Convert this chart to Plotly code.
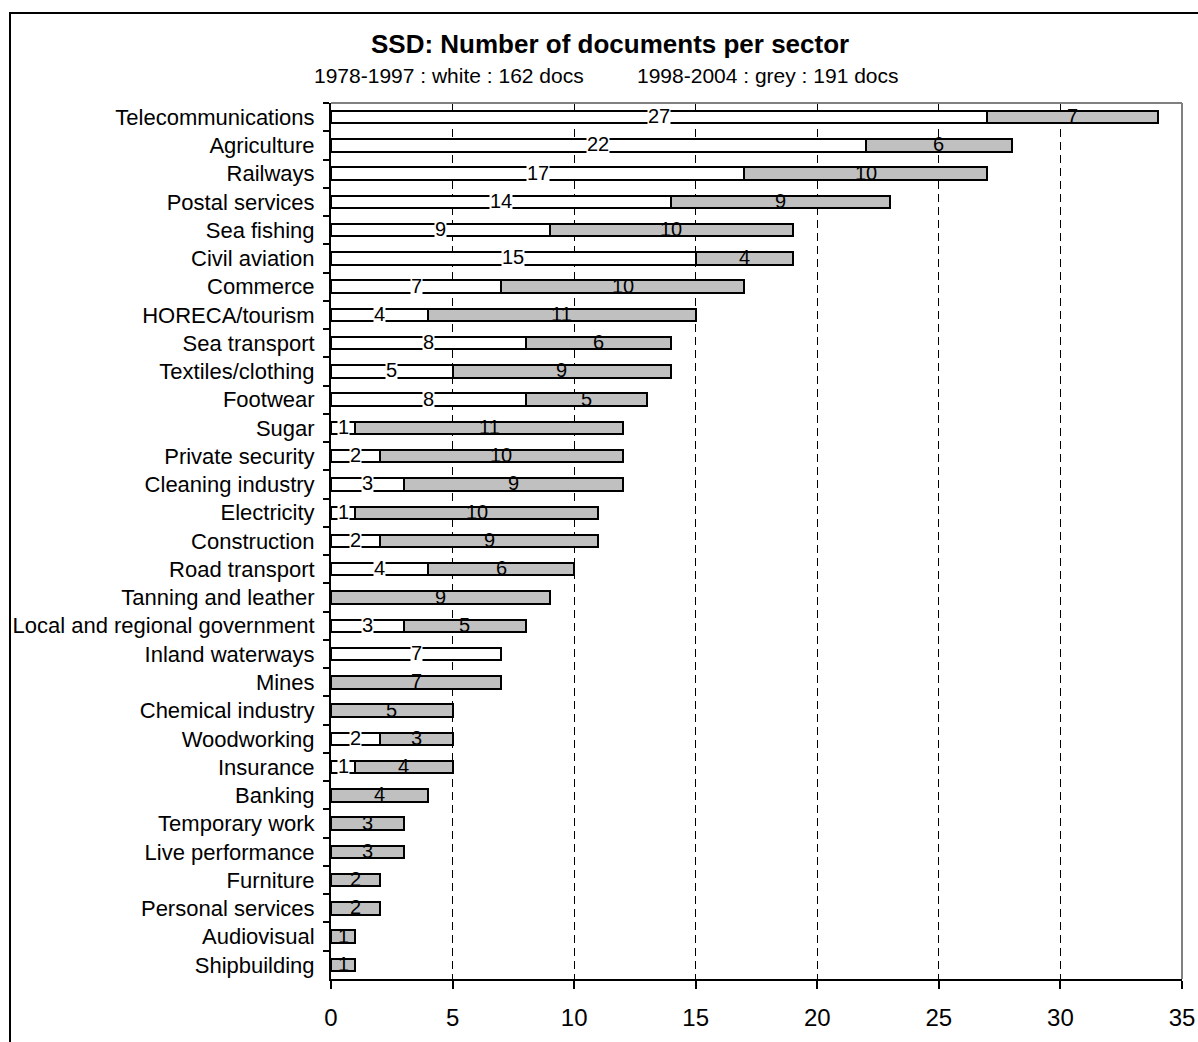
import plotly.graph_objects as go

# Documents per sector, split by period
sectors = [
    "Telecommunications", "Agriculture", "Railways", "Postal services", "Sea fishing",
    "Civil aviation", "Commerce", "HORECA/tourism", "Sea transport", "Textiles/clothing",
    "Footwear", "Sugar", "Private security", "Cleaning industry", "Electricity",
    "Construction", "Road transport", "Tanning and leather", "Local and regional government",
    "Inland waterways", "Mines", "Chemical industry", "Woodworking", "Insurance",
    "Banking", "Temporary work", "Live performance", "Furniture", "Personal services",
    "Audiovisual", "Shipbuilding",
]
docs_1978_1997 = [27, 22, 17, 14, 9, 15, 7, 4, 8, 5, 8, 1, 2, 3, 1, 2, 4, 0, 3, 7, 0, 0, 2, 1, 0, 0, 0, 0, 0, 0, 0]
docs_1998_2004 = [7, 6, 10, 9, 10, 4, 10, 11, 6, 9, 5, 11, 10, 9, 10, 9, 6, 9, 5, 0, 7, 5, 3, 4, 4, 3, 3, 2, 2, 1, 1]
x_ticks = [0, 5, 10, 15, 20, 25, 30, 35]

title_text = "SSD: Number of documents per sector"
subtitle_left = "1978-1997 : white : %d docs" % sum(docs_1978_1997)
subtitle_right = "1998-2004 : grey : %d docs" % sum(docs_1998_2004)

FONT = "Arial, Liberation Sans, sans-serif"
W, H = 1198, 1042
L, R, T, B = 331, 16, 103, 63
PW, PH = W - L - R, H - T - B


def px_x(px):
    return (px - L) / PW


def px_y(py):
    return (H - B - py) / PH


fig = go.Figure()
fig.add_trace(go.Bar(
    y=sectors, x=docs_1978_1997, orientation="h", name="1978-1997",
    marker=dict(color="white", line=dict(color="black", width=2)),
    width=0.44,
))
fig.add_trace(go.Bar(
    y=sectors, x=docs_1998_2004, orientation="h", name="1998-2004",
    marker=dict(color="#c0c0c0", line=dict(color="black", width=2)),
    width=0.44,
))

annotations = []
for s, a, b in zip(sectors, docs_1978_1997, docs_1998_2004):
    if a > 0:
        annotations.append(dict(
            x=a / 2, y=s, xref="x", yref="y", text=str(a), showarrow=False,
            font=dict(family=FONT, size=20, color="black"),
            bgcolor="white", borderpad=0, yshift=1,
        ))
    if b > 0:
        annotations.append(dict(
            x=a + b / 2, y=s, xref="x", yref="y", text=str(b), showarrow=False,
            font=dict(family=FONT, size=20, color="black"),
            borderpad=0, yshift=1,
        ))

annotations.append(dict(
    x=px_x(610), y=px_y(44), xref="paper", yref="paper", text="<b>%s</b>" % title_text,
    showarrow=False, xanchor="center", yanchor="middle",
    font=dict(family=FONT, size=26, color="black"),
))
annotations.append(dict(
    x=px_x(449), y=px_y(76), xref="paper", yref="paper", text=subtitle_left,
    showarrow=False, xanchor="center", yanchor="middle",
    font=dict(family=FONT, size=21, color="black"),
))
annotations.append(dict(
    x=px_x(768), y=px_y(76), xref="paper", yref="paper", text=subtitle_right,
    showarrow=False, xanchor="center", yanchor="middle",
    font=dict(family=FONT, size=21, color="black"),
))

shapes = [
    # outer chart frame
    dict(type="rect", xref="paper", yref="paper",
         x0=px_x(10), x1=px_x(1210), y0=px_y(1055), y1=px_y(13),
         line=dict(color="black", width=2), layer="below"),
    # grey top and right edges of the plot area
    dict(type="line", xref="paper", yref="paper", x0=0, x1=1, y0=1, y1=1,
         line=dict(color="#808080", width=2), layer="above"),
    dict(type="line", xref="paper", yref="paper", x0=1, x1=1, y0=0, y1=1,
         line=dict(color="#808080", width=2), layer="above"),
]

fig.update_layout(
    width=W, height=H,
    margin=dict(l=L, r=R, t=T, b=B, pad=0, autoexpand=False),
    barmode="stack",
    showlegend=False,
    plot_bgcolor="white", paper_bgcolor="white",
    font=dict(family=FONT, color="black"),
    annotations=annotations,
    shapes=shapes,
    xaxis=dict(
        range=[0, 35], tickvals=x_ticks, ticks="outside", ticklen=8, tickwidth=2,
        tickcolor="black", showline=True, linecolor="black", linewidth=2,
        showgrid=True, gridcolor="black", gridwidth=1, griddash="8px,5px",
        zeroline=False, tickfont=dict(family=FONT, size=24, color="black"),
        ticklabelstandoff=8, automargin=False,
    ),
    yaxis=dict(
        type="category", categoryorder="array", categoryarray=sectors,
        autorange="reversed", ticks="outside", tickson="boundaries", ticklen=6,
        tickwidth=2, tickcolor="black", showline=True, linecolor="black", linewidth=2,
        showgrid=False, zeroline=False, tickfont=dict(family=FONT, size=22, color="black"),
        ticklabelstandoff=10, automargin=False,
    ),
)

fig.write_html("out.html")
